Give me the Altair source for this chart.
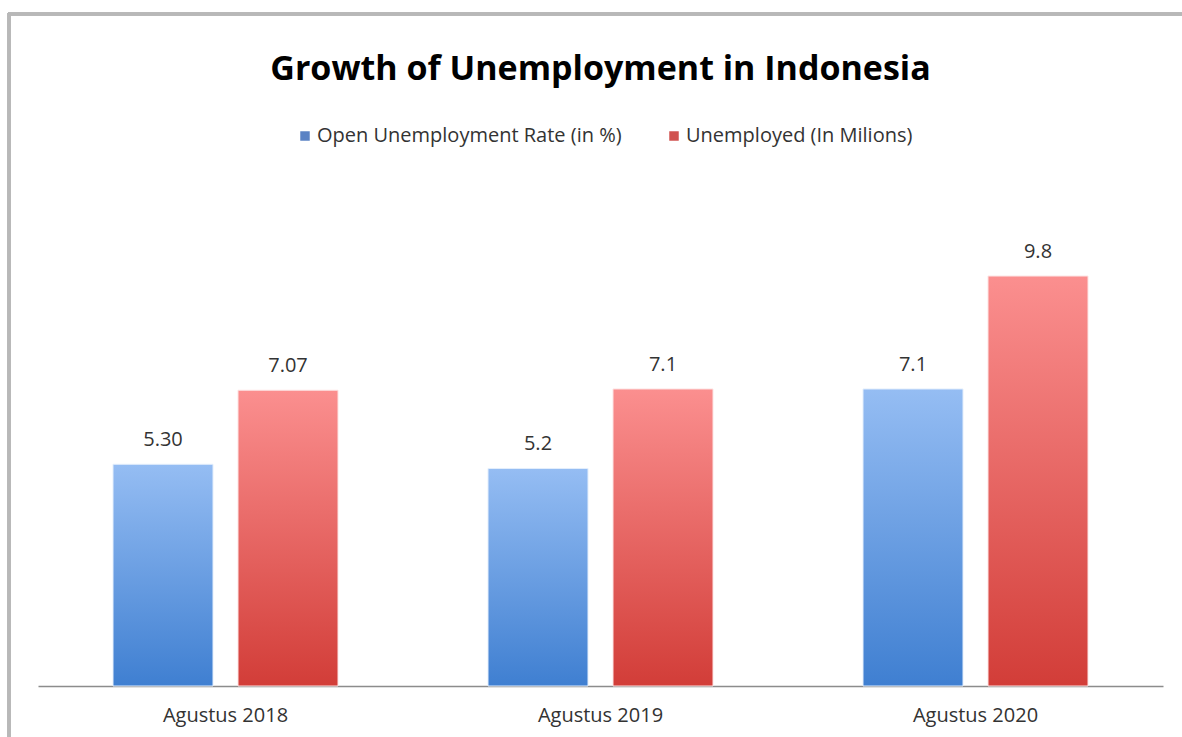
import altair as alt
import pandas as pd

categories = ["Agustus 2018", "Agustus 2019", "Agustus 2020"]
series_names = ["Open Unemployment Rate (in %)", "Unemployed (In Milions)"]
rate_values = [5.30, 5.2, 7.1]
unemployed_values = [7.07, 7.1, 9.8]
rate_labels = ["5.30", "5.2", "7.1"]
unemployed_labels = ["7.07", "7.1", "9.8"]

rows = []
for i, c in enumerate(categories):
    rows.append({"category": c, "series": series_names[0], "value": rate_values[i], "label": rate_labels[i]})
    rows.append({"category": c, "series": series_names[1], "value": unemployed_values[i], "label": unemployed_labels[i]})
df = pd.DataFrame(rows)

FONT = "Open Sans"
TXT = "#333333"

x_enc = alt.X("category:N", sort=categories,
              scale=alt.Scale(paddingInner=0, paddingOuter=0),
              axis=alt.Axis(title=None, labelAngle=0, ticks=False, domainColor="#8c8c8c",
                            domainWidth=1.5, labelFontSize=20, labelFont=FONT, labelColor=TXT,
                            labelPadding=19))
xo_enc = alt.XOffset("series:N", scale=alt.Scale(domain=series_names, paddingInner=0.2, paddingOuter=0.6))
y_enc = alt.Y("value:Q", scale=alt.Scale(domain=[0, 12]), axis=None)

blue_grad = alt.Gradient(gradient="linear", x1=0, x2=0, y1=0, y2=1,
                         stops=[alt.GradientStop(color="#95bdf3", offset=0),
                                alt.GradientStop(color="#3f7fd1", offset=1)])
red_grad = alt.Gradient(gradient="linear", x1=0, x2=0, y1=0, y2=1,
                        stops=[alt.GradientStop(color="#fb8f8f", offset=0),
                               alt.GradientStop(color="#d23d38", offset=1)])

base = alt.Chart(df)

blue_bars = base.transform_filter(alt.datum.series == series_names[0]).mark_bar(
    fill=blue_grad, stroke="#e3eefc", strokeWidth=1).encode(x=x_enc, xOffset=xo_enc, y=y_enc)
red_bars = base.transform_filter(alt.datum.series == series_names[1]).mark_bar(
    fill=red_grad, stroke="#fde3e3", strokeWidth=1).encode(x=x_enc, xOffset=xo_enc, y=y_enc)

labels = base.mark_text(baseline="alphabetic", dy=-18, fontSize=20, font=FONT, color=TXT).encode(
    x=x_enc, xOffset=xo_enc, y=y_enc, text="label:N")

legend_layer = base.mark_square(opacity=0, size=1).encode(
    x=x_enc, xOffset=xo_enc, y=y_enc,
    color=alt.Color("series:N",
                    scale=alt.Scale(domain=series_names, range=["#5a82c4", "#d0524f"]),
                    legend=alt.Legend(title=None, orient="none", legendX=257, legendY=-58,
                                      direction="horizontal", symbolType="square", symbolSize=90,
                                      symbolOpacity=1, labelFontSize=20, labelFont=FONT,
                                      labelColor=TXT, labelLimit=500, columnPadding=42,
                                      labelOffset=2, padding=0)))

frame_top = alt.Chart(df).mark_rule(color="#b8b8b8", strokeWidth=3).encode(
    x=alt.value(-30), x2=alt.value(1150), y=alt.value(-170))
frame_left = alt.Chart(df).mark_rule(color="#b8b8b8", strokeWidth=3).encode(
    x=alt.value(-29), y=alt.value(-171), y2=alt.value(560))

chart = alt.layer(frame_top, frame_left, blue_bars, red_bars, labels, legend_layer).properties(
    width=1125, height=502,
    background="white",
    title=alt.TitleParams("Growth of Unemployment in Indonesia", fontSize=34, font=FONT,
                          fontWeight="bold", color="#000000", anchor="middle", offset=-75),
    autosize=alt.AutoSizeParams(type="none"),
    padding={"left": 38, "top": 184, "right": 19, "bottom": 51},
).configure_view(stroke=None)

chart.save("out.html", embed_options={"renderer": "svg", "actions": False})
